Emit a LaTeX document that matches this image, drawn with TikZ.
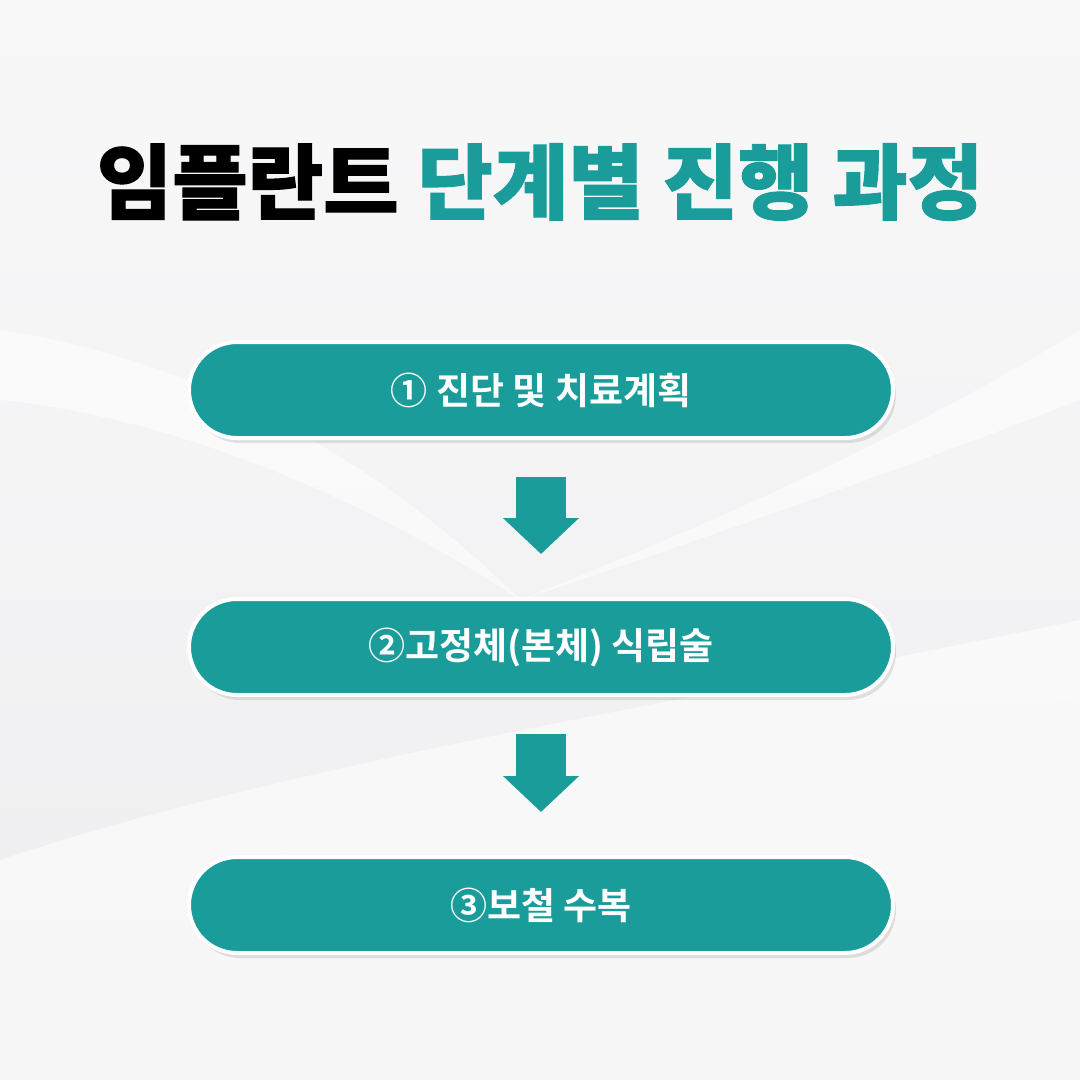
\documentclass[tikz,border=0pt]{standalone}
\usepackage{fontspec}
\usepackage{xcolor}
\usepackage{tikz}
\usetikzlibrary{arrows.meta,shadows}
\newfontfamily\krfont{Noto Sans CJK KR Bold}
\newfontfamily\krblack{Noto Sans CJK KR Black}[FakeBold=1.2]
\definecolor{implteal}{HTML}{1A9C9B}
\definecolor{bgtop}{HTML}{F8F8F9}
\definecolor{bgmid}{HTML}{EEEEF0}

\begin{document}
\begin{tikzpicture}[
    x=1pt, y=-1pt,
    stepbox/.style={rectangle, draw=white, line width=4pt, rounded corners=48pt,
                minimum width=704pt, minimum height=96pt, align=center,
                fill=implteal, text=white, font=\krfont\fontsize{37}{44}\selectfont,
                drop shadow={shadow xshift=3pt, shadow yshift=-5pt, opacity=0.10, fill=black}},
    blockarrow/.style={implteal, line width=50pt, -{Triangle[width=74pt, length=36pt]}},
    title/.style={font=\krblack\fontsize{82}{92}\selectfont, inner sep=0pt},
    swoosh/.style={fill=white, opacity=0.55}
]
    % Background
    \shade[top color=bgtop, bottom color=bgmid] (0,0) rectangle (1080,1080);
    \useasboundingbox (0,0) rectangle (1080,1080);
    \fill[swoosh] (0,330) .. controls (200,360) and (380,460) .. (520,600)
        .. controls (400,520) and (200,420) .. (0,400) -- cycle;
    \fill[swoosh] (1080,400) .. controls (900,470) and (700,540) .. (520,600)
        .. controls (720,520) and (900,440) .. (1080,330) -- cycle;
    \fill[swoosh] (0,860) .. controls (300,760) and (700,700) .. (1080,620)
        -- (1080,700) .. controls (700,760) and (300,830) .. (0,930) -- cycle;
    \fill[swoosh] (0,930) .. controls (300,830) and (700,760) .. (1080,700)
        -- (1080,1080) -- (0,1080) -- cycle;

    % Title
    \node[title] (head) at (540,182) {\textcolor{black}{임플란트} \textcolor{implteal}{단계별 진행 과정}};

    % Steps
    \node[stepbox] (diag) at (541,390) {① 진단 및 치료계획};
    \node[stepbox] (fixture) at (541,647) {②고정체(본체) 식립술};
    \node[stepbox] (prosth) at (541,905) {③보철 수복};

    % Arrows
    \draw[blockarrow, shorten <=37pt, shorten >=43pt] (diag) -- (fixture);
    \draw[blockarrow, shorten <=37pt, shorten >=43pt] (fixture) -- (prosth);
\end{tikzpicture}
\end{document}
